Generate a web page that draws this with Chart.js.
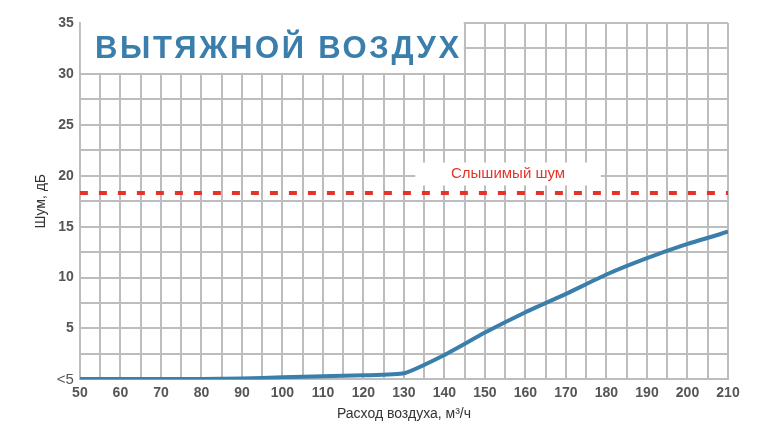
<!DOCTYPE html>
<html>
<head>
<meta charset="utf-8">
<script src="https://cdn.jsdelivr.net/npm/chart.js@4/dist/chart.umd.min.js"></script>
<style>
  body { margin: 0; background: #fff; }
  #wrap { width: 757px; height: 425px; }
</style>
</head>
<body>
<div id="wrap"><canvas id="noise-chart" width="757" height="425"></canvas></div>
<script>
const airflow = [50, 60, 70, 80, 90, 100, 110, 120, 130, 140, 150, 160, 170, 180, 190, 200, 210];
const noiseValues = [0.05, 0.05, 0.05, 0.05, 0.1, 0.2, 0.3, 0.4, 0.6, 2.4, 4.6, 6.6, 8.4, 10.3, 11.9, 13.3, 14.5];
const audibleLevel = 18.3;
const title = 'ВЫТЯЖНОЙ ВОЗДУХ';
const audibleLabel = 'Слышимый шум';

const blue = '#3a7eab';
const red = '#e3342a';
const gridColor = '#bdbdbd';
const fontFamily = '"Liberation Sans", Arial, sans-serif';

// white boxes with the title and the "audible" label, drawn on top of the grid
const overlay = {
  id: 'overlay',
  beforeDatasetsDraw(chart) {
    const { ctx, chartArea, scales } = chart;
    const x = scales.x, y = scales.y;
    ctx.save();
    ctx.fillStyle = '#fff';
    ctx.fillRect(chartArea.left + 1, chartArea.top - 2, x.getPixelForValue(145) - chartArea.left - 2, y.getPixelForValue(30) - chartArea.top + 1);
    ctx.fillStyle = blue;
    ctx.font = 'bold 31px ' + fontFamily;
    ctx.textBaseline = 'middle';
    ctx.textAlign = 'left';
    if ('letterSpacing' in ctx) ctx.letterSpacing = '2.7px';
    ctx.fillText(title, chartArea.left + 15, y.getPixelForValue(32.4));
    if ('letterSpacing' in ctx) ctx.letterSpacing = '0px';

    const bx1 = x.getPixelForValue(132.8), bx2 = x.getPixelForValue(178.6);
    ctx.fillStyle = '#fff';
    ctx.fillRect(bx1, y.getPixelForValue(21.3), bx2 - bx1, y.getPixelForValue(19.05) - y.getPixelForValue(21.3));
    ctx.fillStyle = red;
    ctx.font = '15px ' + fontFamily;
    ctx.textAlign = 'center';
    ctx.fillText(audibleLabel, (bx1 + bx2) / 2, y.getPixelForValue(20.15));
    ctx.restore();
  }
};

const ctx = document.getElementById('noise-chart').getContext('2d');
new Chart(ctx, {
  type: 'line',
  data: {
    labels: airflow,
    datasets: [{
      label: 'Шум',
      data: airflow.map((a, i) => ({ x: a, y: noiseValues[i] })),
      borderColor: blue,
      borderWidth: 4,
      pointRadius: 0,
      tension: 0.15
    }, {
      label: audibleLabel,
      data: [{ x: 50, y: audibleLevel }, { x: 210, y: audibleLevel }],
      borderColor: red,
      borderWidth: 4,
      borderDash: [8, 11],
      pointRadius: 0
    }]
  },
  options: {
    responsive: false,
    animation: false,
    layout: { padding: { top: 23, right: 29, left: 33, bottom: 2 } },
    plugins: { legend: { display: false }, tooltip: { enabled: false } },
    scales: {
      x: {
        type: 'linear',
        min: 50,
        max: 210,
        grid: { color: gridColor, lineWidth: 2, drawTicks: false },
        border: { color: gridColor, width: 2 },
        ticks: {
          stepSize: 5,
          autoSkip: false,
          maxRotation: 0,
          padding: 5,
          color: '#555',
          font: { family: fontFamily, size: 14, weight: 'bold' },
          callback: v => (v % 10 === 0 ? v : '')
        },
        title: {
          display: true,
          text: 'Расход воздуха, м³/ч',
          color: '#333',
          font: { family: fontFamily, size: 14 },
          padding: { top: 0, bottom: 0 }
        }
      },
      y: {
        min: 0,
        max: 35,
        grid: { color: gridColor, lineWidth: 2, drawTicks: false },
        border: { color: gridColor, width: 2 },
        ticks: {
          stepSize: 2.5,
          autoSkip: false,
          padding: 6,
          color: '#555',
          font: c => (c.tick && c.tick.value === 0
            ? { family: fontFamily, size: 15 }
            : { family: fontFamily, size: 14, weight: 'bold' }),
          callback: v => (v === 0 ? '<5' : (v % 5 === 0 ? v : ''))
        },
        title: {
          display: true,
          text: 'Шум, дБ',
          color: '#333',
          font: { family: fontFamily, size: 14 },
          padding: { top: 0, bottom: 1 }
        }
      }
    }
  },
  plugins: [overlay]
});
</script>
</body>
</html>
